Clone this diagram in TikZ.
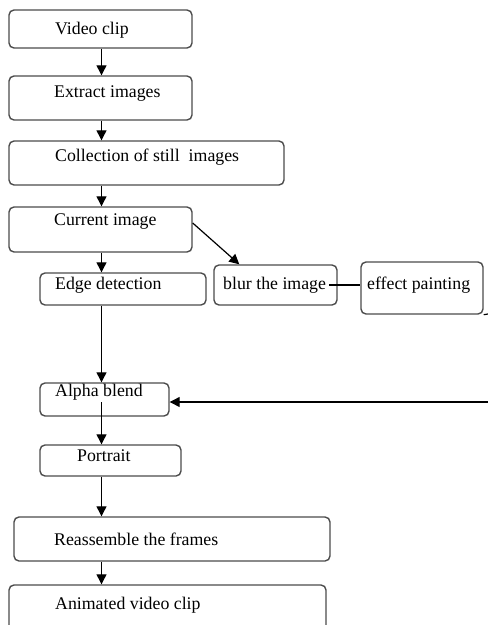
\documentclass[tikz,border=0pt]{standalone}
\usepackage{fontspec}
\setmainfont{Liberation Serif}
\usetikzlibrary{arrows.meta,calc}
\begin{document}
\begin{tikzpicture}[x=1pt,y=-1pt,
  box/.style={draw=black!70,line width=1.4pt,rounded corners=5pt,inner sep=0pt},
  lbl/.style={anchor=base west,inner sep=0pt,font=\fontsize{17.8}{19}\selectfont},
  arr/.style={line width=1.2pt,-{Triangle[length=10pt,width=10pt]}},
  ln/.style={line width=1.2pt}]
\useasboundingbox (0,0) rectangle (488,625);
\clip (0,0) rectangle (488,625);
% boxes
\node[box,minimum width=183pt,minimum height=38pt] (v) at (100.5,29) {};
\node[box,minimum width=183pt,minimum height=44pt] (e) at (100.5,98) {};
\node[box,minimum width=275pt,minimum height=44pt] (c) at (146.5,163) {};
\node[box,minimum width=183pt,minimum height=45pt] (cur) at (100.5,229.5) {};
\node[box,minimum width=166pt,minimum height=32pt] (edge) at (123,289) {};
\node[box,minimum width=123pt,minimum height=40pt] (blur) at (275.5,285) {};
\node[box,minimum width=122pt,minimum height=52pt] (eff) at (422,288) {};
\node[box,minimum width=129pt,minimum height=33pt] (alpha) at (104.5,399.5) {};
\node[box,minimum width=141pt,minimum height=31pt] (por) at (110.5,460.5) {};
\node[box,minimum width=316pt,minimum height=44pt] (reas) at (172,539) {};
\node[box,minimum width=317pt,minimum height=60pt] (anim) at (167.5,615) {};
% labels
\node[lbl] (tv) at (55,34) {Video clip};
\node[lbl] (te) at (54,97) {Extract images};
\node[lbl] (tc) at (55,161) {Collection of still\ \ images};
\node[lbl] (tcur) at (54,225) {Current image};
\node[lbl] (tedge) at (55,289) {Edge detection};
\node[lbl] (tblur) at (223,289) {blur the image};
\node[lbl] (teff) at (367,289) {effect painting};
\node[lbl] (talpha) at (55,396) {Alpha blend};
\node[lbl] (tpor) at (77,461) {Portrait};
\node[lbl] (treas) at (54,545) {Reassemble the frames};
\node[lbl] (tanim) at (55,609) {Animated video clip};
% connectors
\coordinate (ax) at (101.5,0);
\coordinate (astart) at (101.5,402);
\draw[arr] (v.south -| ax) -- (e.north -| ax);
\draw[arr] (e.south -| ax) -- (c.north -| ax);
\draw[arr] (c.south -| ax) -- (cur.north -| ax);
\draw[arr] (cur.south -| ax) -- (edge.north -| ax);
\draw[arr] (edge.south -| ax) -- (alpha.north -| ax);
\draw[arr] (astart) -- (por.north -| ax);
\draw[arr] (por.south -| ax) -- (reas.north -| ax);
\draw[arr] (reas.south -| ax) -- (anim.north -| ax);
\draw[arr] ($(cur.east)+(0,-6.5)$) -- ($(blur.north west)+(26,0)$);
\coordinate (bstart) at (329,285);
\draw[ln] (bstart) -- (bstart -| eff.west);
\coordinate (stub) at (488,314);
\draw[ln] (eff.south east) -- (stub);
\coordinate (rin) at (488,402);
\draw[arr] (rin) -- (rin -| alpha.east);
\end{tikzpicture}
\end{document}
